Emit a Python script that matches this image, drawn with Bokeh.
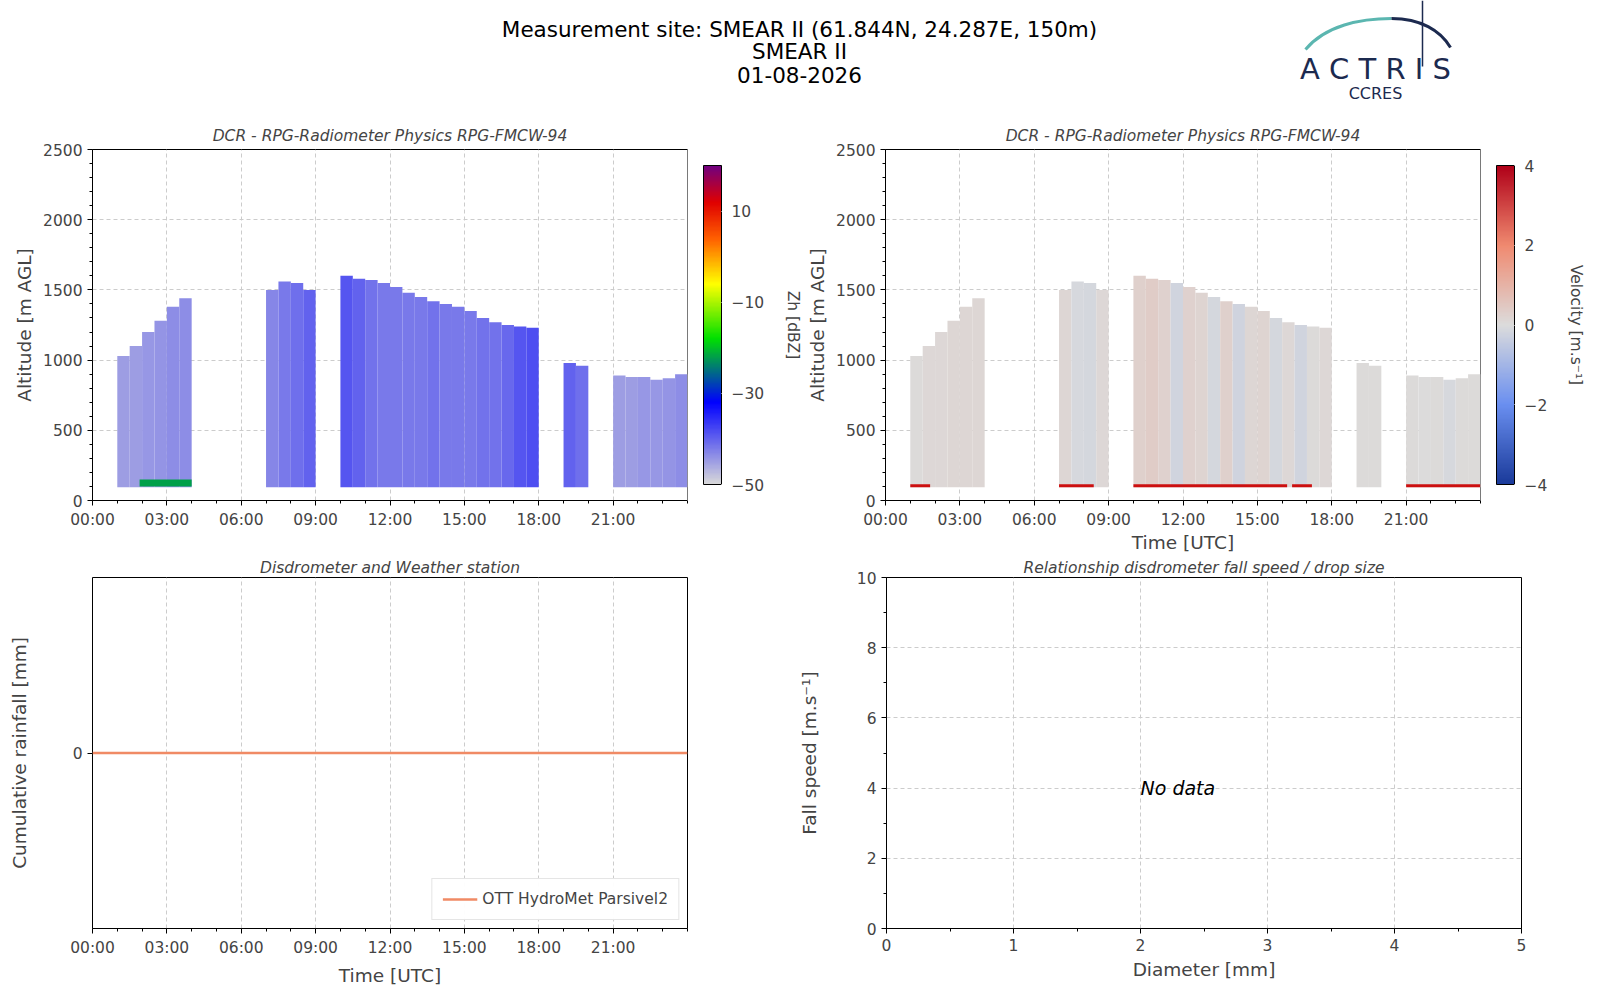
import numpy as np
from bokeh.plotting import figure
from bokeh.layouts import column, row, Spacer
from bokeh.models import (LinearColorMapper, ColorBar, FixedTicker, Range1d, Legend, LegendItem,
                          ColumnDataSource, LinearAxis)
from bokeh.core.properties import value
from bokeh.embed import file_html
from bokeh.resources import INLINE

# ---------------- data ----------------
bin_start_h = [i * 0.5 for i in range(48)]
zh_top_m = [0, 0, 1030, 1100, 1200, 1280, 1380, 1440,
            0, 0, 0, 0, 0, 0,
            1500, 1560, 1550, 1500,
            0, 0,
            1600, 1580, 1570, 1550, 1520, 1480, 1450, 1420, 1400, 1380, 1350, 1300, 1270, 1250, 1240, 1230,
            0, 0,
            980, 960,
            0, 0,
            890, 880, 880, 860, 870, 900]
zh_mean_dbz = [0, 0, -45, -45, -44.5, -44, -43.5, -43.5,
               0, 0, 0, 0, 0, 0,
               -43, -42, -41, -40,
               0, 0,
               -39, -40, -41.5, -42, -42, -42, -42, -41.5, -42, -42, -42, -41.5, -41.5, -40.5, -39, -38.5,
               0, 0,
               -40, -41,
               0, 0,
               -45, -45, -44.5, -44.5, -44, -43.5]
vel_mean = [0, 0, 0.05, 0.1, 0.1, 0.15, 0.15, 0.15,
            0, 0, 0, 0, 0, 0,
            0.15, -0.1, -0.15, 0.1,
            0, 0,
            0.3, 0.4, 0.25, -0.2, 0.25, 0.2, -0.15, 0.3, -0.25, 0.15, 0.2, -0.15, 0.1, -0.2, 0.05, 0.1,
            0, 0,
            0.05, 0.05,
            0, 0,
            0.05, 0.0, 0.05, -0.1, 0.05, 0.05]
green_layer_h = [1.9, 4.0]
green_layer_dbz = -22
vel_strip_bins = [(1.0, 1.8), (7.0, 8.4), (10.0, 16.2), (16.4, 17.2), (21.0, 24.0)]
time_ticks = [0, 3, 6, 9, 12, 15, 18, 21]
time_labels = ["00:00", "03:00", "06:00", "09:00", "12:00", "15:00", "18:00", "21:00"]
rain_t = [0, 24]
rain_mm = [0, 0]

FONT = "DejaVu Sans"

def interp_palette(anchors, n=256):
    vals = np.array([a[0] for a in anchors], float)
    cols = np.array([[int(a[1][i:i + 2], 16) for i in (1, 3, 5)] for a in anchors], float)
    xs = np.linspace(vals[0], vals[-1], n)
    out = []
    for x in xs:
        rgb = [np.interp(x, vals, cols[:, k]) for k in range(3)]
        out.append("#%02x%02x%02x" % tuple(int(round(c)) for c in rgb))
    return out

zh_pal = interp_palette([(-50, "#d9d9d9"), (-32, "#0000ff"), (-18, "#00e000"), (-6, "#ffff00"),
                         (4, "#ff6000"), (12, "#e00000"), (20, "#700080")])
vel_pal = interp_palette([(-4, "#1a3a9a"), (-2, "#6a8ff0"), (0, "#dcdcdc"), (2, "#f08a70"), (4, "#b00018")])
zh_map = LinearColorMapper(palette=zh_pal, low=-50, high=20)
vel_map = LinearColorMapper(palette=vel_pal, low=-4, high=4)

FW, FH = 595, 351

def style(p, xlabel=None, ylabel=None, title=None):
    p.toolbar_location = None
    p.outline_line_color = "black"
    for ax in p.xaxis + p.yaxis:
        ax.major_label_text_font = FONT
        ax.major_label_text_font_size = "15.5px"
        ax.axis_label_text_font = FONT
        ax.axis_label_text_font_size = "18.5px"
        ax.axis_label_text_font_style = "normal"
        ax.major_tick_in = 0
        ax.major_tick_out = 5
        ax.minor_tick_in = 0
        ax.minor_tick_out = 3
        ax.axis_line_color = None
    p.grid.grid_line_color = "#cccccc"
    p.grid.grid_line_dash = "4 3"
    if xlabel:
        p.xaxis.axis_label = xlabel
    if ylabel:
        p.yaxis.axis_label = ylabel
    if title:
        p.title.text = title
        p.title.text_font = FONT
        p.title.text_font_size = "15.5px"
        p.title.text_font_style = "italic"
        p.title.align = "center"

def time_axis(p):
    p.xaxis.ticker = FixedTicker(ticks=time_ticks, minor_ticks=[i for i in range(25)])
    p.xaxis.major_label_overrides = {t: l for t, l in zip(time_ticks, time_labels)}

def radar_fig(vals, mapper, title, xlabel):
    p = figure(frame_width=FW, frame_height=FH, x_range=Range1d(0, 24), y_range=Range1d(0, 2500),
               output_backend="svg", toolbar_location=None, min_border_top=10, min_border_left=92)
    xs, ws, ys, hs, vs = [], [], [], [], []
    for t, top, v in zip(bin_start_h, zh_top_m, vals):
        if top > 0:
            xs.append(t + 0.25); ws.append(0.5); ys.append((95 + top) / 2); hs.append(top - 95); vs.append(v)
    src = ColumnDataSource(dict(x=xs, y=ys, w=ws, h=hs, v=vs))
    p.rect("x", "y", "w", "h", source=src, fill_color={"field": "v", "transform": mapper}, line_color=None)
    time_axis(p)
    p.yaxis.ticker = FixedTicker(ticks=[0, 500, 1000, 1500, 2000, 2500],
                                 minor_ticks=list(range(0, 2600, 100)))
    style(p, xlabel=xlabel, ylabel="Altitude [m AGL]", title=title)
    return p

def add_cbar(p, mapper, ticks, label):
    cb = ColorBar(color_mapper=mapper, ticker=FixedTicker(ticks=ticks), width=18,
                  padding=16, major_label_text_font=FONT, major_label_text_font_size="15.5px",
                  major_tick_out=5, major_tick_in=0, bar_line_color="black")
    p.add_layout(cb, "right")
    ax = LinearAxis(ticker=FixedTicker(ticks=[]), axis_label=label, axis_line_color=None,
                    major_tick_line_color=None, minor_tick_line_color=None,
                    major_label_text_font_size="0px", axis_label_text_font=FONT,
                    axis_label_text_font_size="15.5px", axis_label_text_font_style="normal",
                    axis_label_standoff=0)
    p.add_layout(ax, "right")

p1 = radar_fig(zh_mean_dbz, zh_map, "DCR - RPG-Radiometer Physics RPG-FMCW-94", None)
p1.rect(x=[(green_layer_h[0] + green_layer_h[1]) / 2], y=[125], width=[green_layer_h[1] - green_layer_h[0]],
        height=[50], fill_color=zh_pal[int((green_layer_dbz + 50) / 70 * 255)], line_color=None)
add_cbar(p1, zh_map, [-50, -30, -10, 10], "Zh [dBZ]")

p2 = radar_fig(vel_mean, vel_map, "DCR - RPG-Radiometer Physics RPG-FMCW-94", "Time [UTC]")
p2.min_border_left = 10
p2.xaxis.axis_label_standoff = 0
p2.rect(x=[(a + b) / 2 for a, b in vel_strip_bins], y=[105] * len(vel_strip_bins),
        width=[b - a for a, b in vel_strip_bins], height=[20] * len(vel_strip_bins),
        fill_color="#cc1010", line_color=None)
add_cbar(p2, vel_map, [-4, -2, 0, 2, 4], "Velocity [m.s⁻¹]")

p3 = figure(frame_width=FW, frame_height=FH, x_range=Range1d(0, 24), y_range=Range1d(-1, 1),
            output_backend="svg", toolbar_location=None, min_border_left=92, min_border_top=0)
r = p3.line(rain_t, rain_mm, line_color="#f08a65", line_width=2.5)
time_axis(p3)
p3.yaxis.ticker = FixedTicker(ticks=[0])
style(p3, xlabel="Time [UTC]", ylabel="Cumulative rainfall [mm]", title="Disdrometer and Weather station")
p3.yaxis.axis_label_standoff = 40
p3.title.standoff = 2
leg = Legend(items=[LegendItem(label="OTT HydroMet Parsivel2", renderers=[r])], location="bottom_right",
             label_text_font=FONT, label_text_font_size="15.5px", border_line_color="#cccccc",
             margin=8, glyph_width=35)
p3.add_layout(leg)

p4 = figure(frame_width=635, frame_height=FH, x_range=Range1d(0, 5), y_range=Range1d(0, 10),
            output_backend="svg", toolbar_location=None, min_border_top=0, min_border_left=10)
p4.xaxis.ticker = FixedTicker(ticks=[0, 1, 2, 3, 4, 5], minor_ticks=[i * 0.5 for i in range(11)])
p4.yaxis.ticker = FixedTicker(ticks=[0, 2, 4, 6, 8, 10], minor_ticks=list(range(11)))
style(p4, xlabel="Diameter [mm]", ylabel="Fall speed [m.s⁻¹]",
      title="Relationship disdrometer fall speed / drop size")
p4.title.standoff = 2
p4.yaxis.axis_label_standoff = 34
p4.text(x=[2], y=[4], text=["No data"], text_font=value(FONT), text_font_size="19px",
        text_font_style="italic", text_baseline="middle", text_align="left")

# header
HH = 119
hdr = figure(width=1590, height=HH, x_range=Range1d(0, 1590), y_range=Range1d(HH, 0),
             output_backend="svg", toolbar_location=None, min_border=0)
hdr.axis.visible = False
hdr.grid.visible = False
hdr.outline_line_color = None
hdr.text(x=[799] * 3, y=[29, 51, 74],
         text=["Measurement site: SMEAR II (61.844N, 24.287E, 150m)", "SMEAR II", "01-08-2026"],
         text_font=value(FONT), text_font_size="21.5px", text_align="center", text_baseline="middle")
hdr.bezier(x0=[1305], y0=[49], x1=[1391], y1=[18], cx0=[1325], cy0=[25], cx1=[1360], cy1=[18],
           line_color="#5bb6b0", line_width=3)
hdr.bezier(x0=[1391], y0=[18], x1=[1450], y1=[47], cx0=[1420], cy0=[18], cx1=[1440], cy1=[30],
           line_color="#1c2a4f", line_width=3)
hdr.segment(x0=[1422], y0=[0], x1=[1422], y1=[66], line_color="#1c2a4f", line_width=1.5)
hdr.text(x=[1375], y=[68], text=["A C T R I S"], text_font=value(FONT), text_font_size="29px",
         text_color="#1c2a4f", text_align="center", text_baseline="middle")
hdr.text(x=[1375], y=[93], text=["CCRES"], text_font=value(FONT), text_font_size="16px",
         text_color="#1c2a4f", text_align="center", text_baseline="middle")

layout = column(hdr, row(p1, p2), row(p3, Spacer(width=103), p4), spacing=0)
open("out.html", "w").write(file_html(layout, INLINE))
